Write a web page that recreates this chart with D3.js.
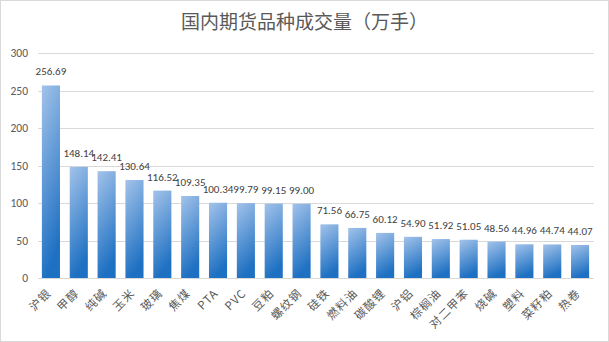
<!DOCTYPE html>
<html><head><meta charset="utf-8">
<script src="https://cdn.jsdelivr.net/npm/d3@7"></script>
<style>html,body{margin:0;padding:0;background:#fff;}svg{display:block;font-family:"Microsoft YaHei","Noto Sans CJK SC",sans-serif;}</style>
</head><body>
<svg id="c" width="609" height="342"></svg>
<script>
const categories = ["沪银","甲醇","纯碱","玉米","玻璃","焦煤","PTA","PVC","豆粕","螺纹钢","硅铁","燃料油","碳酸锂","沪铝","棕榈油","对二甲苯","烧碱","塑料","菜籽粕","热卷"];
const values = [256.69,148.14,142.41,130.64,116.52,109.35,100.34,99.79,99.15,99.00,71.56,66.75,60.12,54.90,51.92,51.05,48.56,44.96,44.74,44.07];
const yTicks = [0,50,100,150,200,250,300];
const title = "国内期货品种成交量（万手）";

const svg = d3.select("#c");
const W = 609, H = 342;
svg.append("rect").attr("x",0.5).attr("y",0.5).attr("width",W-1).attr("height",H-1)
  .attr("fill","#fff").attr("stroke","#d9d9d9");

const defs = svg.append("defs");
const g = defs.append("linearGradient").attr("id","bg").attr("x1","0").attr("y1","0").attr("x2","0.25").attr("y2","1");
g.append("stop").attr("offset","0%").attr("stop-color","#a3c3ea");
g.append("stop").attr("offset","100%").attr("stop-color","#1e70c2");

const x = d3.scaleBand().domain(categories).range([37,594]).paddingInner(0.35).paddingOuter(0.175);
const y = d3.scaleLinear().domain([0,300]).range([278,53]);

// gridlines
svg.append("g").selectAll("line").data(yTicks).join("line")
  .attr("x1",38).attr("x2",594).attr("y1",d=>Math.round(y(d))+0.5).attr("y2",d=>Math.round(y(d))+0.5)
  .attr("stroke","#d9d9d9").attr("stroke-width",1);

// y axis labels
const yAxis = d3.axisLeft(y).tickValues(yTicks).tickSize(0).tickPadding(0);
const ya = svg.append("g").attr("transform","translate(28,0)").call(yAxis);
ya.select(".domain").remove();
ya.selectAll("text").attr("fill","#595959").style("font-size","11.5px").style("font-family","Calibri,'Liberation Sans','Noto Sans CJK SC',sans-serif");

// bars
svg.append("g").selectAll("rect").data(values).join("rect")
  .attr("x",(d,i)=>x(categories[i])).attr("width",x.bandwidth())
  .attr("y",d=>y(d)).attr("height",d=>y(0)-y(d)).attr("fill","url(#bg)");

// value labels
svg.append("g").selectAll("text").data(values).join("text")
  .attr("x",(d,i)=>x(categories[i])+x.bandwidth()/2).attr("y",d=>y(d)-10)
  .attr("text-anchor","middle").attr("fill","#404040").style("font-size","11px")
  .style("font-family","Calibri,'Liberation Sans','Noto Sans CJK SC',sans-serif")
  .text(d=>d.toFixed(2));

// x labels
const xa = d3.axisBottom(x).tickSize(0).tickPadding(0);
const xg = svg.append("g").attr("transform","translate(0,278)").call(xa);
xg.select(".domain").remove();
xg.selectAll("text").attr("text-anchor","end").attr("fill","#595959").style("font-size","11.5px")
  .style("letter-spacing","1px")
  .style("font-family","'Noto Sans CJK SC',sans-serif")
  .attr("y",0).attr("dy","0")
  .attr("transform","translate(1,16) rotate(-45)");

// title
svg.append("text").attr("x",W/2).attr("y",29).attr("text-anchor","middle")
  .attr("fill","#595959").style("font-size","19px").style("font-family","'Noto Sans CJK SC',sans-serif")
  .text(title);
</script>
</body></html>
